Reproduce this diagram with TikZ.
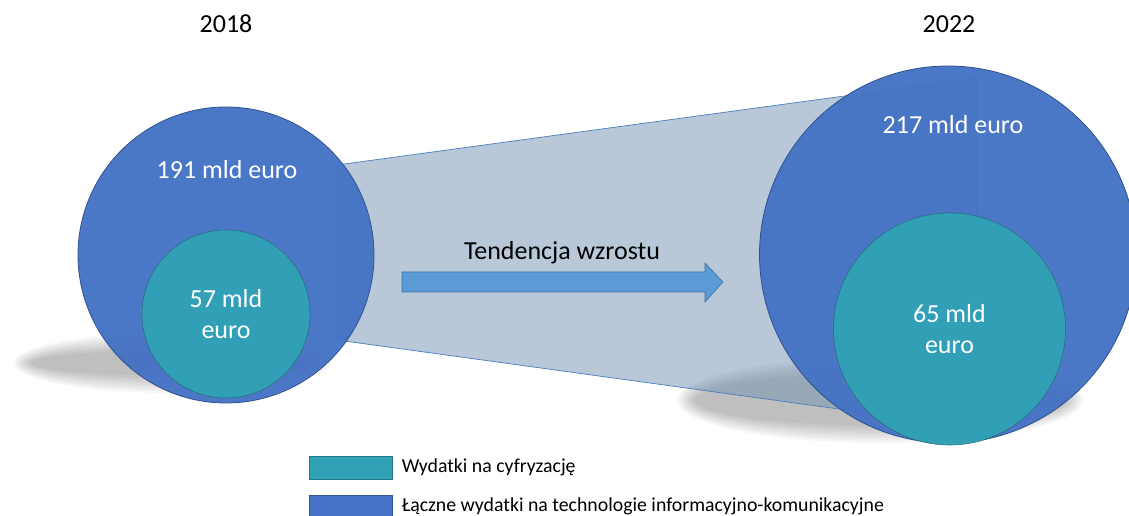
\documentclass[tikz,border=0pt]{standalone}
\usepackage{fontspec}
\setmainfont{Carlito}
\usepackage{tikz}
\usetikzlibrary{positioning}
\definecolor{ictblue}{HTML}{4472C4}
\definecolor{ictline}{HTML}{2F528F}
\definecolor{digiteal}{HTML}{31A2B6}
\definecolor{digiline}{HTML}{2A6F7F}
\definecolor{funnelfill}{RGB}{113,145,179}
\definecolor{funnelline}{HTML}{4A7EBB}
\definecolor{arrowfill}{HTML}{5B9BD5}
\definecolor{arrowline}{HTML}{41719C}

\begin{document}
\begin{tikzpicture}[x=1pt, y=1pt,
    total/.style={circle, fill=ictblue, draw=ictline, line width=0.8pt, fill opacity=0.96, inner sep=0pt},
    digital/.style={circle, fill=digiteal, draw=digiline, line width=0.6pt, fill opacity=0.97, text opacity=1, text=white, inner sep=0pt, align=center, font=\fontsize{26}{31}\selectfont},
    value/.style={text=white, font=\fontsize{26}{31}\selectfont},
    year/.style={font=\fontsize{26}{31}\selectfont},
    shadowlayer/.style={fill=black, opacity=0.034},
    legendbox/.style={rectangle, fill=#1, draw=#1!75!black, line width=0.5pt, minimum width=83pt, minimum height=23pt, inner sep=0pt},
    legendtext/.style={font=\fontsize{19.8}{24}\selectfont}]

      \useasboundingbox (0,0) rectangle (1129,516);

      % soft shadows, built from stacked ellipses
      \foreach \k in {0,...,7} {
        \fill[shadowlayer] (172,153) ellipse [x radius={158pt-2.5pt*\k}, y radius={30pt-2.5pt*\k}];
        \fill[shadowlayer] (880,116) ellipse [x radius={203pt-2.5pt*\k}, y radius={43pt-2.5pt*\k}];
      }

      % growth funnel
      \filldraw[fill=funnelfill, fill opacity=0.5, draw=funnelline, line width=0.7pt] (337,351) -- (977,438) -- (977,88) -- (337,176) -- cycle;

      \node[total, minimum size=296pt] (big18) at (226,261) {};
      \node[total, minimum size=377pt] (big22) at (948,261.5) {};
      \node[digital, minimum size=168pt] (dig18) at (226,202) {57 mld\\euro};
      \node[digital, minimum size=232pt] (dig22) at (949.5,187) {65 mld\\euro};

      \node[value] (val18) at (227,346) {191 mld euro};
      \node[value] (val22) at (953,391) {217 mld euro};
      \node[year] (year18) at (226,492) {2018};
      \node[year] (year22) at (949,492) {2022};

      \filldraw[fill=arrowfill, draw=arrowline, line width=0.6pt] (402,244) -- (705,244) -- (705,253) -- (723,234) -- (705,214) -- (705,224) -- (402,224) -- cycle;
      \node[year] (trend) at (562,263) {Tendencja wzrostu};

      \node[legendbox=digiteal] (keydig) at (350.5,48.5) {};
      \node[legendbox=ictblue] (keyict) at (350.5,9.5) {};
      \node[legendtext, right=6pt of keydig] (keydigtext) {Wydatki na cyfryzację};
      \node[legendtext, right=6pt of keyict] (keyicttext) {Łączne wydatki na technologie informacyjno-komunikacyjne};

    \end{tikzpicture}
\end{document}
